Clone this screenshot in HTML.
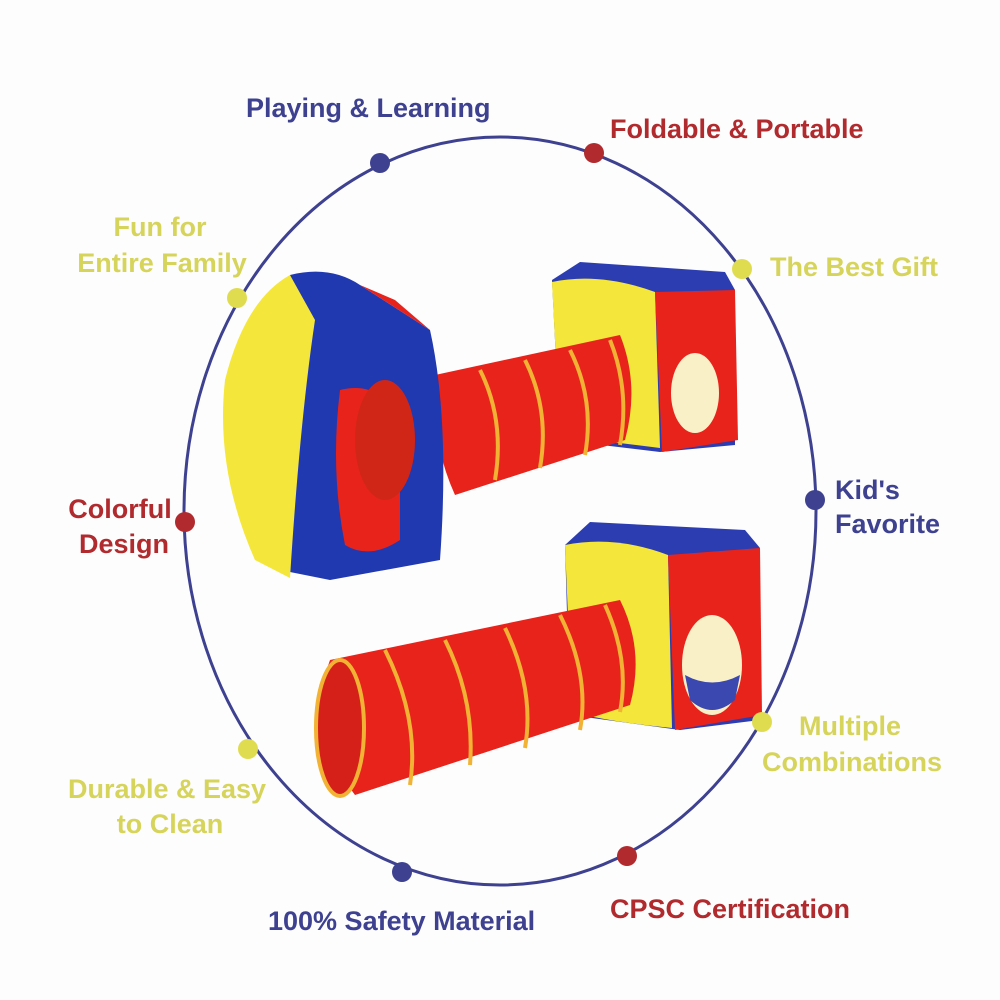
<!DOCTYPE html>
<html><head><meta charset="utf-8"><style>
html,body{margin:0;padding:0;background:#fff}
svg{display:block}
text{font-family:"Liberation Sans",sans-serif;font-weight:bold;font-size:27px}
.b{fill:#3d4190}.r{fill:#b02a2e}.y{fill:#d6d45a}
</style></head><body>
<svg width="1000" height="1000" viewBox="0 0 1000 1000">
<rect width="1000" height="1000" fill="#fdfdfd"/>
<ellipse cx="500" cy="511" rx="316" ry="374" fill="none" stroke="#3d4190" stroke-width="3"/>

<path d="M552 280 L580 262 L725 272 L735 290 L735 445 L660 452 L560 440 Z" fill="#2b3db0"/>
<path d="M552 282 Q600 272 655 292 L660 448 Q600 440 560 438 Z" fill="#f4e63a"/>
<path d="M655 292 L735 290 L738 440 L662 452 Z" fill="#e8231c"/>
<ellipse cx="695" cy="393" rx="24" ry="40" fill="#f9f0c8"/>
<path d="M435 375 L620 335 Q640 385 625 440 L455 495 Q430 440 435 375 Z" fill="#e8231c"/>
<g stroke="#f2b233" stroke-width="4" fill="none">
<path d="M480 370 Q505 420 495 480"/><path d="M525 360 Q550 410 540 468"/><path d="M570 350 Q595 400 585 455"/><path d="M610 340 Q630 390 620 445"/>
</g>
<path d="M290 275 Q330 265 360 285 L430 330 Q450 420 440 560 L330 580 L280 570 Z" fill="#2038b0"/>
<path d="M290 275 Q245 300 225 380 Q215 470 255 560 L290 578 Q300 420 315 320 Z" fill="#f4e63a"/>
<path d="M360 285 L395 300 L430 330 Z" fill="#e8231c"/>
<path d="M340 390 Q380 380 400 420 L400 540 Q370 560 345 545 Q330 470 340 390 Z" fill="#e8231c"/>
<ellipse cx="385" cy="440" rx="30" ry="60" fill="#d02618"/>
<path d="M565 545 L590 522 L745 530 L760 548 L760 720 L680 730 L570 715 Z" fill="#2b3db0"/>
<path d="M565 545 Q615 535 668 555 L672 728 Q610 722 572 712 Z" fill="#f4e63a"/>
<path d="M668 555 L760 548 L762 715 L675 730 Z" fill="#e8231c"/>
<ellipse cx="712" cy="665" rx="30" ry="50" fill="#f9f0c8"/>
<path d="M685 675 Q712 690 740 675 L735 700 Q712 720 690 700 Z" fill="#3a48b0"/>
<path d="M330 660 L620 600 Q645 650 630 705 L355 795 Q305 730 330 660 Z" fill="#e8231c"/>
<ellipse cx="340" cy="728" rx="24" ry="68" fill="#d42018" stroke="#f2b233" stroke-width="4"/>
<g stroke="#f2b233" stroke-width="4" fill="none">
<path d="M385 650 Q420 720 410 785"/><path d="M445 640 Q475 700 470 765"/><path d="M505 628 Q535 690 525 748"/><path d="M560 615 Q590 675 580 730"/><path d="M605 605 Q630 660 620 712"/>
</g>

<circle cx="380" cy="163" r="10" fill="#3d4190"/>
<circle cx="594" cy="153" r="10" fill="#b02a2e"/>
<circle cx="742" cy="269" r="10" fill="#e0dc50"/>
<circle cx="815" cy="500" r="10" fill="#3d4190"/>
<circle cx="762" cy="722" r="10" fill="#e0dc50"/>
<circle cx="627" cy="856" r="10" fill="#b02a2e"/>
<circle cx="402" cy="872" r="10" fill="#3d4190"/>
<circle cx="248" cy="749" r="10" fill="#e0dc50"/>
<circle cx="185" cy="522" r="10" fill="#b02a2e"/>
<circle cx="237" cy="298" r="10" fill="#e0dc50"/>

<text class="b" x="246" y="117">Playing &amp; Learning</text>
<text class="r" x="610" y="138">Foldable &amp; Portable</text>
<text class="y" x="160" y="236" text-anchor="middle">Fun for</text>
<text class="y" x="162" y="272" text-anchor="middle">Entire Family</text>
<text class="y" x="770" y="276">The Best Gift</text>
<text class="r" x="120" y="518" text-anchor="middle">Colorful</text>
<text class="r" x="124" y="553" text-anchor="middle">Design</text>
<text class="b" x="835" y="499">Kid's</text>
<text class="b" x="835" y="533">Favorite</text>
<text class="y" x="850" y="735" text-anchor="middle">Multiple</text>
<text class="y" x="852" y="771" text-anchor="middle">Combinations</text>
<text class="y" x="167" y="798" text-anchor="middle">Durable &amp; Easy</text>
<text class="y" x="170" y="833" text-anchor="middle">to Clean</text>
<text class="r" x="610" y="918">CPSC Certification</text>
<text class="b" x="268" y="930">100% Safety Material</text>
</svg>
</body></html>
